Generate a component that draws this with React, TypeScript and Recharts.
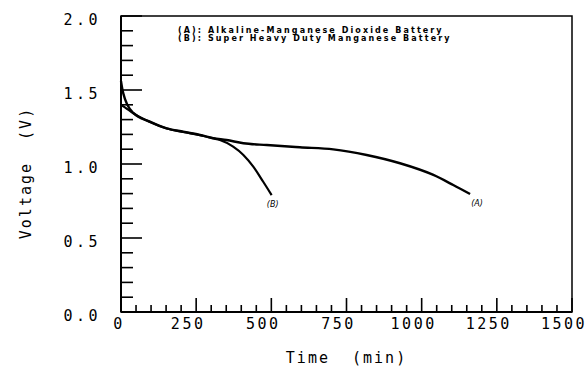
import {
  LineChart,
  Line,
  XAxis,
  YAxis,
  ReferenceArea,
  ReferenceDot,
} from "recharts";

// discharge curves (time in min, voltage in V)
const timeA = [0, 5, 13, 30, 41, 96, 152, 207, 263, 307, 351, 407, 485, 595, 706, 817, 928, 1039, 1105, 1161];
const voltA = [1.56, 1.5, 1.44, 1.37, 1.345, 1.286, 1.241, 1.218, 1.196, 1.175, 1.162, 1.14, 1.128, 1.113, 1.099, 1.061, 1.005, 0.926, 0.858, 0.797];

const timeB = [0, 13, 41, 96, 152, 207, 263, 307, 329, 373, 407, 440, 473, 501];
const voltB = [1.4, 1.383, 1.342, 1.284, 1.24, 1.216, 1.194, 1.173, 1.162, 1.117, 1.061, 0.982, 0.88, 0.79];

const xTicks = [
  0, 50, 100, 150, 200, 250, 300, 350, 400, 450, 500, 550, 600, 650, 700, 750,
  800, 850, 900, 950, 1000, 1050, 1100, 1150, 1200, 1250, 1300, 1350, 1400,
  1450, 1500,
];
const yTicks = [
  0, 0.1, 0.2, 0.3, 0.4, 0.5, 0.6, 0.7, 0.8, 0.9, 1.0, 1.1, 1.2, 1.3, 1.4, 1.5,
  1.6, 1.7, 1.8, 1.9, 2.0,
];

const legendLines = [
  "(A): Alkaline-Manganese Dioxide Battery",
  "(B): Super Heavy Duty Manganese Battery",
];

const dataA = timeA.map((t, i) => ({ t, v: voltA[i] }));
const dataB = timeB.map((t, i) => ({ t, v: voltB[i] }));

const FONT = "'DejaVu Sans Mono', monospace";

const XTick = (props: any) => {
  const { x, y, payload } = props;
  const major = payload.value % 250 === 0;
  return (
    <g>
      <line x1={x} x2={x} y1={y} y2={y - (major ? 14 : 7)} stroke="#000" strokeWidth={1.6} />
      {major && (
        <text x={x} y={y + 17} dx={payload.value === 0 ? -2 : -8} textAnchor="middle" fontFamily={FONT} fontSize={15} letterSpacing={2.5} fill="#000">
          {payload.value}
        </text>
      )}
    </g>
  );
};

const YTick = (props: any) => {
  const { x, y, payload } = props;
  const v = payload.value;
  const major = Math.abs(v * 2 - Math.round(v * 2)) < 1e-6;
  return (
    <g>
      <line x1={x} x2={x + (major ? 21 : 12)} y1={y} y2={y} stroke="#000" strokeWidth={1.6} />
      {major && (
        <text x={x - 20} y={y + 9} textAnchor="end" fontFamily={FONT} fontSize={15} letterSpacing={3.5} fill="#000">
          {v.toFixed(1)}
        </text>
      )}
    </g>
  );
};

const YTitle = (props: any) => {
  const { viewBox } = props;
  const x = viewBox.x + 31;
  const y = viewBox.y + viewBox.height / 2 + 9;
  return (
    <text x={x} y={y} transform={`rotate(-90, ${x}, ${y})`} textAnchor="middle" fontFamily={FONT} fontSize={15} letterSpacing={2} fill="#000" style={{ whiteSpace: "pre" }}>
      Voltage  (V)
    </text>
  );
};

const XTitle = (props: any) => {
  const { viewBox } = props;
  return (
    <text x={viewBox.x + viewBox.width / 2} y={viewBox.y + 51} textAnchor="middle" fontFamily={FONT} fontSize={15} letterSpacing={2} fill="#000" style={{ whiteSpace: "pre" }}>
      Time  (min)
    </text>
  );
};

const curveLabel = (text: string) => (props: any) => {
  const { viewBox } = props;
  const cx = viewBox.x + viewBox.width / 2;
  const cy = viewBox.y + viewBox.height / 2;
  return (
    <text x={cx + (text === "(A)" ? 7 : 1)} y={cy + 12} textAnchor="middle" fontFamily="'DejaVu Sans', sans-serif" fontSize={8} fontStyle="italic" fill="#000">
      {text}
    </text>
  );
};

export default function App() {
  const lastA = dataA[dataA.length - 1];
  const lastB = dataB[dataB.length - 1];
  return (
    <div style={{ position: "absolute", left: 0, top: 0, width: 588, height: 367, background: "#fff" }}>
      <LineChart width={588} height={367} margin={{ top: 16, right: 16, left: 0, bottom: 0 }}>
        <XAxis
          type="number"
          dataKey="t"
          domain={[0, 1500]}
          ticks={xTicks}
          interval={0}
          tickSize={0}
          tickMargin={0}
          height={55}
          axisLine={{ stroke: "#000", strokeWidth: 2 }}
          tick={(p: any) => <XTick {...p} />}
          label={(p: any) => <XTitle {...p} />}
        />
        <YAxis
          type="number"
          domain={[0, 2]}
          ticks={yTicks}
          interval={0}
          tickSize={0}
          tickMargin={0}
          width={121}
          axisLine={{ stroke: "#000", strokeWidth: 2 }}
          tick={(p: any) => <YTick {...p} />}
          label={(p: any) => <YTitle {...p} />}
        />
        <ReferenceArea x1={0} x2={1500} y1={0} y2={2} fill="none" stroke="#000" strokeWidth={1.5} ifOverflow="visible" />
        <Line data={dataA} dataKey="v" type="monotone" stroke="#000" strokeWidth={2.4} dot={false} isAnimationActive={false} />
        <Line data={dataB} dataKey="v" type="monotone" stroke="#000" strokeWidth={2.2} dot={false} isAnimationActive={false} />
        <ReferenceDot x={lastA.t} y={lastA.v} r={0} fill="none" stroke="none" label={curveLabel("(A)")} />
        <ReferenceDot x={lastB.t} y={lastB.v} r={0} fill="none" stroke="none" label={curveLabel("(B)")} />
      </LineChart>
      <div style={{ position: "absolute", left: 178, top: 27, fontFamily: "'DejaVu Sans', sans-serif", fontWeight: "bold", fontSize: 8, letterSpacing: 2.1, lineHeight: "8px", color: "#000", whiteSpace: "pre" }}>
        {legendLines.map((l) => (
          <div key={l}>{l}</div>
        ))}
      </div>
    </div>
  );
}
